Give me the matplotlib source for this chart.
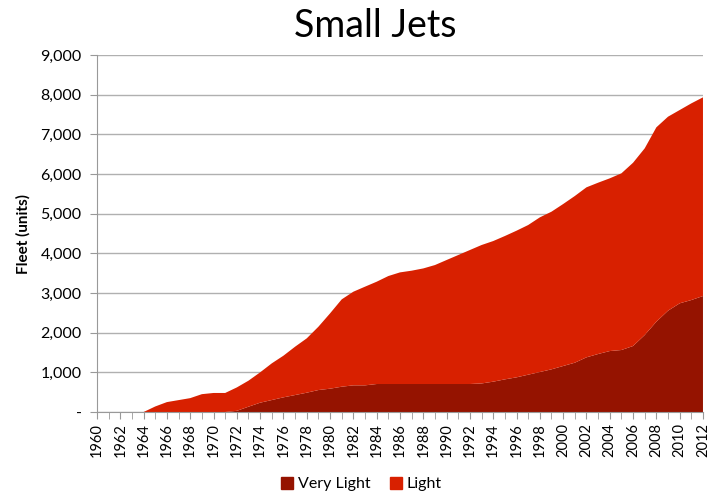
import matplotlib
matplotlib.use("Agg")
import matplotlib.pyplot as plt
from matplotlib.patches import Patch
from matplotlib.ticker import FuncFormatter, MultipleLocator

plt.rcParams['font.family'] = ['Lato', 'DejaVu Sans']

years = list(range(1960, 2013))
total = [0, 0, 0, 0, 0, 140, 250, 300, 350, 450, 480, 480, 620, 790, 1000,
         1227, 1420, 1647, 1857, 2150, 2487, 2840, 3033, 3160, 3285, 3428, 3520,
         3563, 3620, 3705, 3832, 3958, 4084, 4210, 4310, 4437, 4571, 4714, 4907,
         5050, 5243, 5445, 5664, 5781, 5891, 6017, 6284, 6647, 7177, 7445, 7613,
         7781, 7933]
very_light = [0, 0, 0, 0, 0, 0, 0, 0, 0, 0, 0, 0, 30, 134, 235,
              302, 370, 428, 487, 554, 588, 638, 672, 672, 706, 706, 706,
              706, 706, 706, 706, 706, 706, 720, 765, 823, 874, 941, 1008,
              1076, 1160, 1243, 1378, 1462, 1537, 1563, 1664, 1941, 2277, 2554, 2740,
              2823, 2924]
light = [t - v for t, v in zip(total, very_light)]
series_names = ["Very Light", "Light"]
colors = ["#951300", "#D82000"]

fig = plt.figure(figsize=(7.09, 4.97), dpi=100)
ax = fig.add_axes([0.1368, 0.171, 0.9915 - 0.1368, 0.8893 - 0.171])

ax.stackplot(years, very_light, light, colors=colors, linewidth=0)

ax.set_xlim(1960, 2012)
ax.set_ylim(0, 9000)
ax.yaxis.set_major_locator(MultipleLocator(1000))
ax.yaxis.set_major_formatter(FuncFormatter(lambda v, p: "-" if v == 0 else f"{int(v):,}"))
ax.set_xticks(years, minor=True)
ax.set_xticks(years[::2])
ax.set_xticklabels([str(y) for y in years[::2]], rotation=90)
ax.tick_params(axis='x', which='both', length=5, color='#999999', direction='out', labelsize=10.5, pad=3)
ax.tick_params(axis='y', length=5, color='#999999', labelsize=11.5, pad=6)
ax.grid(axis='y', color='#B0B0B0', linewidth=1)
ax.set_axisbelow(True)
for s in ['top', 'right']:
    ax.spines[s].set_visible(False)
for s in ['left', 'bottom']:
    ax.spines[s].set_color('#999999')
ax.set_ylabel("Fleet (units)", fontweight='bold', fontsize=11)
ax.yaxis.set_label_coords(-0.11, 0.5)

fig.text(0.529, 0.948, "Small Jets", ha='center', va='center', fontsize=27)

handles = [Patch(color=c) for c in colors]
fig.legend(handles, series_names, loc='center', bbox_to_anchor=(0.51, 0.026), ncol=2,
           frameon=False, fontsize=11.5, handlelength=0.75, handleheight=0.75,
           handletextpad=0.3, columnspacing=1.2)

fig.savefig("out.png", dpi=100)
